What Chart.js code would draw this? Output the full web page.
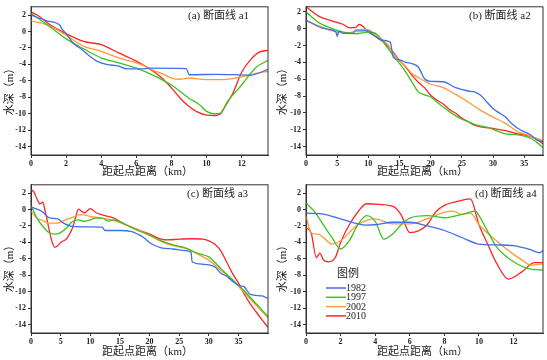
<!DOCTYPE html>
<html>
<head>
<meta charset="utf-8">
<script src="https://cdn.jsdelivr.net/npm/chart.js@4.4.1/dist/chart.umd.min.js"></script>
<style>
  body { margin: 0; background: #fff; }
  #wrap { position: relative; width: 547px; height: 360px; }
  canvas { position: absolute; }
</style>
</head>
<body>
<div id="wrap">
  <canvas id="ca" width="273" height="178" style="left:0;top:0"></canvas>
  <canvas id="cb" width="274" height="178" style="left:273px;top:0"></canvas>
  <canvas id="cc" width="273" height="182" style="left:0;top:178px"></canvas>
  <canvas id="cd" width="274" height="182" style="left:273px;top:178px"></canvas>
</div>
<script>
const years = ["1982", "1997", "2002", "2010"];
const depthTicks = [2, 0, -2, -4, -6, -8, -10, -12, -14];
const shortTicks = [0, 2, 4, 6, 8, 10, 12];
const longTicks = [0, 5, 10, 15, 20, 25, 30, 35];

// [distance km, depth m]
const a1_1982 = [[0,2.0],[0.9,1.3],[1.65,0.75],[1.75,0.35],[2,-0.25],[2.4,-1.4],[2.9,-2.2],[3.35,-3],[3.75,-3.6],[4.3,-4],[5,-4.2],[5.45,-4.55],[6.2,-4.55],[6.8,-4.45],[8.85,-4.5],[9,-5.25],[10.6,-5.2],[12.5,-5.3],[13.5,-4.6]];
const a1_1997 = [[0,2.2],[1,0.7],[2,-0.9],[3,-2.1],[4,-3.2],[5,-3.8],[6,-4.45],[7,-5.35],[7.5,-5.9],[8,-6.5],[9,-8.1],[9.6,-8.9],[10,-9.7],[10.5,-10],[10.8,-9.9],[11.2,-8.5],[12,-6.5],[12.8,-4.4],[13.5,-3.5]];
const a1_2002 = [[0,1.3],[1,0.75],[2,-0.45],[3,-1.8],[4,-2.4],[5,-3.2],[6,-3.8],[6.5,-4.2],[7,-4.75],[7.5,-5.15],[8,-5.65],[8.5,-5.8],[9,-5.65],[10,-5.85],[11,-5.85],[12,-5.5],[13,-5],[13.5,-4.85]];
const a1_2010 = [[0,2.4],[0.5,1.8],[1,0.95],[2,-0.25],[3,-1.2],[4,-1.6],[5,-2.6],[6,-3.6],[7,-4.9],[7.5,-5.75],[8,-6.85],[8.5,-8.1],[9,-9.1],[9.5,-9.8],[10,-10.15],[10.5,-10.2],[10.8,-10],[11,-9.3],[11.5,-7.5],[12,-4.95],[12.5,-3.45],[13,-2.5],[13.5,-2.3]];

const a2_1982 = [[0,1.0],[3,0],[4.8,-0.4],[5,-0.9],[5.3,-0.3],[6,-0.55],[7.5,-0.55],[8,-0.25],[10,-0.25],[11,-0.85],[12,-1.35],[13.5,-1.6],[14,-3.4],[15,-3.7],[16,-4.0],[17,-4.15],[18,-4.55],[19,-5.95],[20,-6.25],[22,-6.3],[24,-7],[26,-7.4],[27,-7.5],[28,-7.9],[29,-8.7],[30,-9.5],[31,-10],[32,-10.5],[33,-11.3],[34,-11.85],[35,-12.25],[36,-12.6],[37,-13.2],[38,-13.4]];
const a2_1997 = [[0,2.0],[2,0.75],[5,-0.2],[6,-0.4],[8,-0.6],[10,-0.4],[11,-0.5],[12,-1.2],[13,-2.2],[14,-3.2],[15,-4.15],[16,-5.15],[17,-6.35],[18,-7.5],[19,-7.85],[20,-8.1],[21,-8.7],[22,-9.3],[23,-9.85],[24,-10.35],[25,-10.75],[26,-11.05],[27,-11.35],[28,-11.55],[29,-11.7],[30,-11.95],[31,-12.25],[32,-12.5],[33,-12.55],[35,-12.75],[36,-13],[37,-13.5],[38,-14.1]];
const a2_2002 = [[0,1.0],[2,0.35],[4,-0.2],[6,-0.5],[7.5,-0.4],[8,-0.1],[10,-0.1],[11,-0.6],[12,-1.2],[13,-1.8],[14,-2.95],[15,-3.8],[16,-4.5],[17,-5.35],[18,-5.8],[19,-6.2],[20,-6.6],[22,-7],[24,-7.8],[26,-8.7],[28,-9.7],[30,-10.5],[32,-11.25],[34,-12.25],[36,-12.75],[38,-13.3]];
const a2_2010 = [[0,2.6],[2,1.5],[4,0.95],[6,0.5],[7,0.1],[8,0.15],[8.5,0.5],[9,0.35],[10,-0.4],[11,-0.85],[12,-1.35],[13,-2],[14,-2.8],[15,-3.8],[16,-4.55],[17,-5.55],[18,-6.35],[19,-7],[20,-7.9],[21,-8.5],[22,-8.95],[23,-9.6],[24,-10.05],[25,-10.65],[26,-11.05],[27,-11.45],[28,-11.65],[30,-11.85],[32,-12.1],[34,-12.5],[36,-12.8],[37,-13.1],[38,-13.7]];

const a3_1982 = [[0,0.3],[2,-0.3],[3,-1.0],[4.5,-1.15],[5.5,-1.65],[7,-2.05],[10,-2.1],[12,-2.15],[12.5,-2.55],[15,-2.55],[17,-2.7],[18,-3.0],[19,-3.4],[20,-4.0],[21,-4.4],[22,-4.65],[24,-4.8],[26,-5],[27,-5.2],[27.2,-6.35],[29,-6.65],[31,-6.95],[32,-7.7],[33,-8.1],[34,-8.7],[35,-9.2],[36,-9.4],[37,-10.3],[39,-10.5],[40,-10.8]];
const a3_1997 = [[0,0.5],[1,-1.05],[2,-2.05],[3,-2.8],[4,-3.0],[5,-2.8],[6,-2.25],[7,-1.45],[8,-1.25],[9,-1.45],[10,-1.25],[11,-1.05],[12,-1.05],[13,-1.4],[14,-1.25],[16,-1.85],[18,-2.55],[20,-3.1],[22,-3.8],[24,-4.3],[26,-4.65],[28,-5.3],[30,-5.75],[32,-7.15],[34,-8.5],[36,-9.9],[38,-11.45],[40,-13.0]];
const a3_2002 = [[0,-0.2],[1,-1.05],[2,-1.35],[3,-1.65],[4.5,-1.65],[5.5,-1.35],[7,-0.95],[8,-0.65],[9,-0.65],[10,-0.85],[12,-1.05],[14,-1.35],[16,-1.85],[18,-2.45],[20,-3.15],[22,-3.9],[24,-4.4],[26,-4.7],[28,-5.35],[30,-6.15],[32,-7.35],[34,-8.6],[36,-10.1],[38,-11.65],[40,-13.15]];
const a3_2010 = [[0,2.4],[0.5,2.1],[1,1.3],[1.5,0.7],[2,0.9],[2.3,0.1],[3,-2.25],[3.5,-3.8],[4,-4.6],[4.5,-4.4],[5,-4.0],[6,-3.55],[7,-2.25],[7.5,-1.05],[8,0.05],[8.5,-0.2],[9,-0.4],[10,0.1],[11,-0.4],[12,-0.65],[14,-1.05],[16,-1.85],[18,-2.45],[20,-3.0],[22,-3.6],[23,-3.7],[25,-3.6],[27,-3.55],[29,-3.6],[30,-3.8],[31,-4.2],[32,-5.0],[33,-6.35],[34,-7.75],[35,-8.9],[36,-10.3],[37,-11.45],[38,-12.45],[39,-13.4],[40,-14.3]];

const a4_1982 = [[0,-0.45],[1,-0.55],[2,-1.15],[3,-1.75],[3.5,-1.9],[4,-1.85],[5,-1.55],[6,-1.55],[7,-2.0],[8,-2.55],[9,-3.4],[10,-4.2],[11,-4.3],[12,-4.4],[13,-4.9],[13.5,-5.25],[13.7,-5.0]];
const a4_1997 = [[0,0.8],[0.5,-0.3],[1,-1.85],[1.5,-3.4],[2,-4.8],[2.5,-3.8],[3,-1.85],[3.5,-0.75],[4,-1.45],[4.5,-3.6],[5,-3.0],[5.5,-1.85],[6,-1.05],[7,-0.75],[8,-1.0],[9,-0.6],[9.5,-0.3],[9.8,-0.2],[10,-0.75],[10.5,-2.65],[11,-4.5],[12,-6.35],[13,-7.25],[13.7,-7.35]];
const a4_2002 = [[0,-0.8],[0.3,-2.85],[0.7,-3.0],[1,-3.4],[1.5,-4.2],[2,-3.8],[3,-1.85],[4,-1.15],[5,-1.75],[6,-1.75],[7,-1.15],[8,-0.35],[8.5,-0.2],[9,-0.6],[9.5,-0.45],[10,-1.85],[11,-3.8],[12,-5.45],[12.5,-6.15],[13,-6.75],[13.7,-6.6]];
const a4_2010 = [[0,-2.2],[0.3,-2.85],[0.6,-5.85],[0.8,-5.3],[1,-6.1],[1.3,-6.35],[1.7,-5.8],[2,-4.0],[2.5,-1.85],[3,-0.3],[3.5,0.7],[4,0.65],[5,0.4],[5.5,-0.65],[6,-2.8],[6.5,-2.6],[7,-1.85],[7.5,-0.3],[8,0.5],[9,1.1],[9.5,1.3],[10,-1.85],[10.5,-4.2],[11,-6.45],[11.7,-8.45],[12.5,-7.55],[13.2,-6.45],[13.7,-6.45]];

const lineColors = ["#3f6fe6", "#3ec21e", "#ff9a3a", "#ff2424"];
const latin = '"Liberation Serif", "Noto Sans CJK SC", serif';

const panels = [
  { id: "ca", label: "(a) 断面线 a1", series: [a1_1982, a1_1997, a1_2002, a1_2010], xMax: 13.5, xTicks: shortTicks,
    yMax: 3, yw: 31, padTop: 3, padRight: 5, xh: 23, labelX: 188, labelY: 16, yTitleY: 89, xTitleY: 172, legend: false },
  { id: "cb", label: "(b) 断面线 a2", series: [a2_1982, a2_1997, a2_2002, a2_2010], xMax: 38, xTicks: longTicks,
    yMax: 2.6, yw: 33, padTop: 6, padRight: 4, xh: 23, labelX: 196, labelY: 16, yTitleY: 89, xTitleY: 172, legend: false },
  { id: "cc", label: "(c) 断面线 a3", series: [a3_1982, a3_1997, a3_2002, a3_2010], xMax: 40, xTicks: longTicks,
    yMax: 3, yw: 31, padTop: 3, padRight: 5, xh: 27, labelX: 187, labelY: 16, yTitleY: 88, xTitleY: 174, legend: false },
  { id: "cd", label: "(d) 断面线 a4", series: [a4_1982, a4_1997, a4_2002, a4_2010], xMax: 13.7, xTicks: shortTicks,
    yMax: 3, yw: 33, padTop: 3, padRight: 4, xh: 27, labelX: 202, labelY: 16, yTitleY: 88, xTitleY: 174, legend: true },
];

const decorPlugin = {
  id: "decor",
  afterDraw(chart, args, opts) {
    const ctx = chart.ctx;
    const area = chart.chartArea;
    ctx.save();
    ctx.strokeStyle = "#333";
    ctx.lineWidth = 1;
    ctx.strokeRect(area.left, area.top, area.right - area.left, area.bottom - area.top);

    ctx.fillStyle = "#222";
    ctx.font = "11px " + latin;
    ctx.textAlign = "left";
    ctx.textBaseline = "middle";
    ctx.fillText(opts.label, opts.labelX, opts.labelY);

    ctx.font = "11px " + latin;
    ctx.textAlign = "center";
    ctx.fillText("距起点距离（km）", (area.left + area.right) / 2 - 2, opts.xTitleY);

    ctx.save();
    ctx.translate(10, opts.yTitleY);
    ctx.rotate(-Math.PI / 2);
    ctx.fillText("水深（m）", 0, 0);
    ctx.restore();

    if (opts.legend) {
      ctx.font = "11px " + latin;
      ctx.textAlign = "left";
      ctx.fillText("图例", 64, 96);
      ctx.font = "10px " + latin;
      chart.data.datasets.forEach((ds, i) => {
        const y = 110 + i * 9.3;
        ctx.strokeStyle = ds.borderColor;
        ctx.lineWidth = 1.5;
        ctx.beginPath();
        ctx.moveTo(53, y);
        ctx.lineTo(73, y);
        ctx.stroke();
        ctx.fillText(ds.label, 73, y + 0.5);
      });
    }
    ctx.restore();
  },
};

panels.forEach((p) => {
  new Chart(document.getElementById(p.id), {
    type: "line",
    data: {
      datasets: p.series.map((s, i) => ({
        label: years[i],
        data: s.map((d) => ({ x: d[0], y: d[1] })),
        borderColor: lineColors[i],
        borderWidth: 1.3,
        pointRadius: 0,
        cubicInterpolationMode: "monotone",
        fill: false,
      })),
    },
    options: {
      responsive: false,
      animation: false,
      layout: { padding: { top: p.padTop, right: p.padRight, left: 0, bottom: 0 } },
      plugins: {
        legend: { display: false },
        tooltip: { enabled: false },
        decor: p,
      },
      scales: {
        x: {
          type: "linear",
          min: 0,
          max: p.xMax,
          afterBuildTicks: (scale) => { scale.ticks = p.xTicks.map((v) => ({ value: v })); },
          afterFit: (scale) => { scale.height = p.xh; },
          grid: { drawOnChartArea: false, tickLength: 3, color: "#333" },
          border: { color: "#333" },
          ticks: { padding: 1, color: "#222", maxRotation: 0, font: { family: latin, size: 8, weight: "bold" } },
        },
        y: {
          type: "linear",
          min: -15,
          max: p.yMax,
          afterBuildTicks: (scale) => { scale.ticks = depthTicks.map((v) => ({ value: v })); },
          afterFit: (scale) => { scale.width = p.yw; },
          grid: { drawOnChartArea: false, tickLength: 3, color: "#333" },
          border: { color: "#333" },
          ticks: { padding: 2, color: "#222", font: { family: latin, size: 8, weight: "bold" } },
        },
      },
    },
    plugins: [decorPlugin],
  });
});
</script>
</body>
</html>
